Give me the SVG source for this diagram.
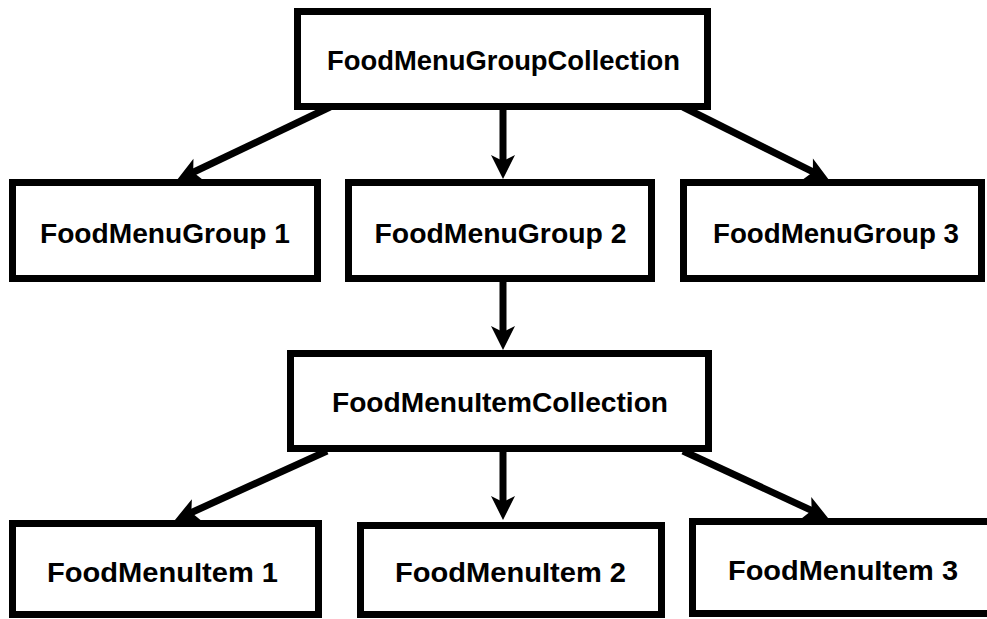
<svg xmlns="http://www.w3.org/2000/svg" width="987" height="619" viewBox="0 0 987 619">
  <style>
    .box { fill: #ffffff; stroke: #000000; stroke-width: 7; }
    .label { font-family: "Liberation Sans", Arial, sans-serif; font-weight: bold; font-size: 27px; fill: #000000; text-anchor: middle; }
    .edge { fill: none; stroke: #000000; stroke-width: 7; marker-end: url(#head); }
  </style>
  <defs>
    <marker id="head" markerUnits="userSpaceOnUse" viewBox="-12 -14 28 28" refX="0" refY="0" markerWidth="28" markerHeight="28" orient="auto">
      <path d="M14,0 L-10,-12 L-4,0 L-10,12 Z" fill="#000000"/>
    </marker>
  </defs>
  <rect width="987" height="619" fill="#ffffff"/>

  <g id="connectors">
    <line class="edge" x1="330" y1="107" x2="189.6" y2="174"/>
    <line class="edge" x1="503" y1="110" x2="503" y2="165"/>
    <line class="edge" x1="683" y1="107" x2="816.5" y2="173.7"/>
    <line class="edge" x1="503" y1="282" x2="503" y2="336"/>
    <line class="edge" x1="327" y1="451" x2="187.7" y2="514.2"/>
    <line class="edge" x1="503" y1="452" x2="503" y2="506"/>
    <line class="edge" x1="683" y1="451" x2="815.3" y2="512.1"/>
  </g>

  <g id="group-collection">
    <rect class="box" x="297.5" y="11.5" width="410" height="95"/>
    <text class="label" x="503.5" y="70" textLength="353" lengthAdjust="spacingAndGlyphs">FoodMenuGroupCollection</text>
  </g>

  <g id="group-1">
    <rect class="box" x="12.5" y="182.5" width="305" height="96"/>
    <text class="label" x="165" y="242.5" textLength="250" lengthAdjust="spacingAndGlyphs">FoodMenuGroup 1</text>
  </g>

  <g id="group-2">
    <rect class="box" x="348.5" y="182.5" width="303" height="96"/>
    <text class="label" x="500.5" y="242.5" textLength="252" lengthAdjust="spacingAndGlyphs">FoodMenuGroup 2</text>
  </g>

  <g id="group-3">
    <rect class="box" x="683.5" y="182.5" width="298" height="96"/>
    <text class="label" x="836" y="242.5" textLength="246" lengthAdjust="spacingAndGlyphs">FoodMenuGroup 3</text>
  </g>

  <g id="item-collection">
    <rect class="box" x="290.5" y="353.5" width="418" height="95"/>
    <text class="label" x="500" y="411.5" textLength="336" lengthAdjust="spacingAndGlyphs">FoodMenuItemCollection</text>
  </g>

  <g id="item-1">
    <rect class="box" x="12.5" y="523.5" width="306" height="91"/>
    <text class="label" x="162.5" y="581.5" textLength="231" lengthAdjust="spacingAndGlyphs">FoodMenuItem 1</text>
  </g>

  <g id="item-2">
    <rect class="box" x="360.5" y="525.5" width="301" height="89"/>
    <text class="label" x="510.5" y="581.5" textLength="231" lengthAdjust="spacingAndGlyphs">FoodMenuItem 2</text>
  </g>

  <g id="item-3">
    <rect class="box" x="692.5" y="521.5" width="305" height="92"/>
    <text class="label" x="843" y="580" textLength="230" lengthAdjust="spacingAndGlyphs">FoodMenuItem 3</text>
  </g>
</svg>
